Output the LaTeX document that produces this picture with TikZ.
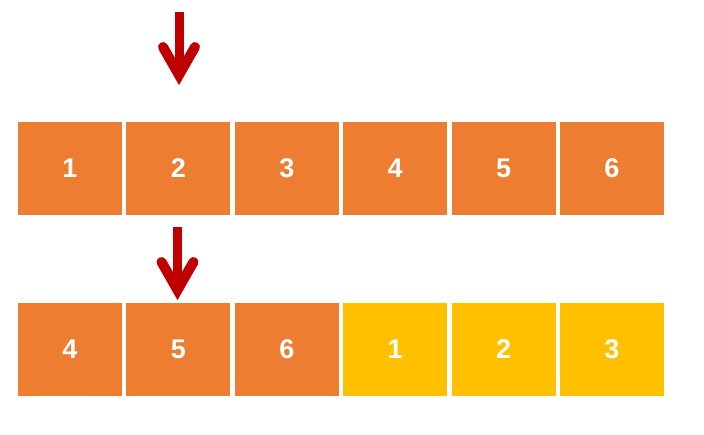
\documentclass[tikz,border=0pt]{standalone}
\usepackage{fontspec}
\setmainfont{Liberation Sans}
\definecolor{boxorange}{HTML}{ED7D31}
\definecolor{boxyellow}{HTML}{FFC000}
\definecolor{arrowred}{HTML}{C00000}
\begin{document}
\begin{tikzpicture}[x=1pt,y=-1pt,
  cell/.style={minimum width=104pt,minimum height=92.5pt,inner sep=0pt,outer sep=0pt,
    text=white,font=\fontsize{27}{30}\selectfont\bfseries},
  orangecell/.style={cell,fill=boxorange},
  yellowcell/.style={cell,fill=boxyellow},
  shaft/.style={draw=arrowred,line width=9pt},
  barb/.style={draw=arrowred,line width=10pt,line cap=round,line join=miter,miter limit=10}]
\useasboundingbox (0,0) rectangle (704,434);
% row 1
\node[orangecell] (t1) at (70,168.4) {1};
\node[orangecell] (t2) at (178.4,168.4) {2};
\node[orangecell] (t3) at (286.8,168.4) {3};
\node[orangecell] (t4) at (395.2,168.4) {4};
\node[orangecell] (t5) at (503.6,168.4) {5};
\node[orangecell] (t6) at (612,168.4) {6};
% row 2
\node[orangecell] (b1) at (70,349.4) {4};
\node[orangecell] (b2) at (178.4,349.4) {5};
\node[orangecell] (b3) at (286.8,349.4) {6};
\node[yellowcell] (b4) at (395.2,349.4) {1};
\node[yellowcell] (b5) at (503.6,349.4) {2};
\node[yellowcell] (b6) at (612,349.4) {3};
% arrow 1
\coordinate (p1s) at (179,12);
\coordinate (p1e) at (179,75);
\coordinate (p1l) at (163,47);
\coordinate (p1r) at (195,47);
\draw[shaft] (p1s) -- (p1e);
\draw[barb] (p1l) -- (p1e) -- (p1r);
% arrow 2
\coordinate (p2s) at (177.5,227);
\coordinate (p2e) at (177.5,290);
\coordinate (p2l) at (161.5,262);
\coordinate (p2r) at (193.5,262);
\draw[shaft] (p2s) -- (p2e);
\draw[barb] (p2l) -- (p2e) -- (p2r);
\end{tikzpicture}
\end{document}
